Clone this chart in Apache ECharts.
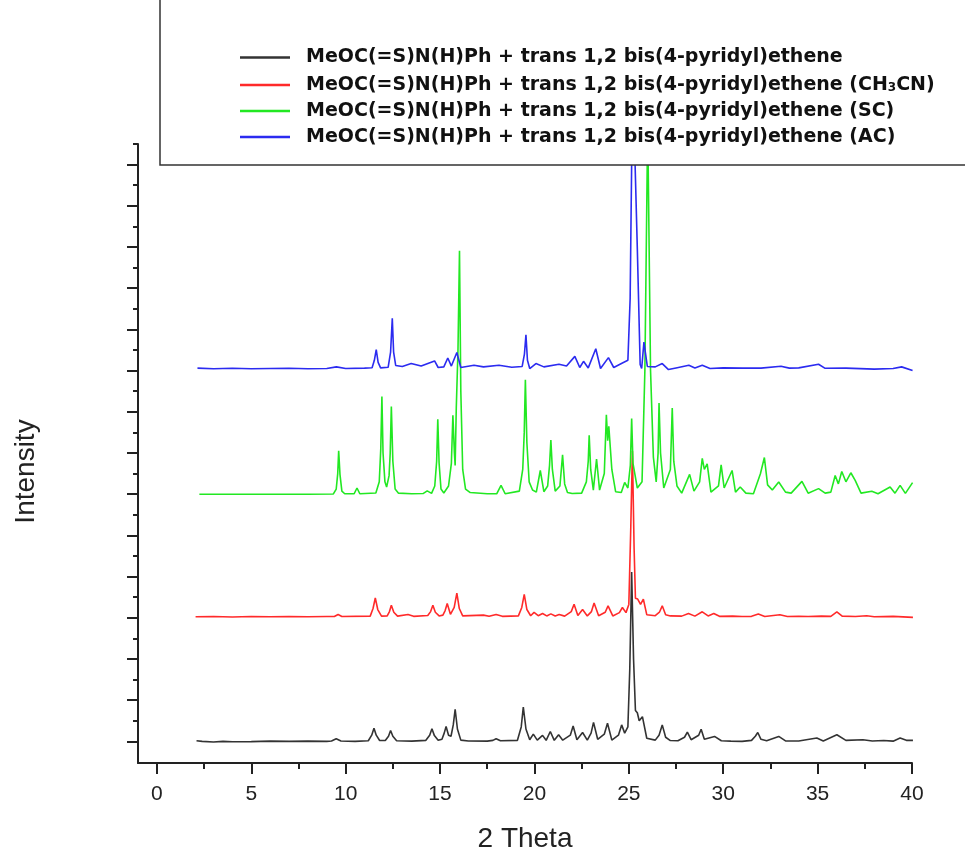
<!DOCTYPE html>
<html><head><meta charset="utf-8">
<script src="https://cdn.jsdelivr.net/npm/echarts@6/dist/echarts.min.js"></script>
<style>html,body{margin:0;padding:0;background:#fff}#c{width:965px;height:858px}</style>
</head><body><div id="c"></div>
<script>
const seriesNames = [
  'MeOC(=S)N(H)Ph + trans 1,2 bis(4-pyridyl)ethene',
  'MeOC(=S)N(H)Ph + trans 1,2 bis(4-pyridyl)ethene (CH3CN)',
  'MeOC(=S)N(H)Ph + trans 1,2 bis(4-pyridyl)ethene (SC)',
  'MeOC(=S)N(H)Ph + trans 1,2 bis(4-pyridyl)ethene (AC)'
];
const seriesColors = ['#333333', '#ff2a2a', '#22e822', '#2b2bf0'];
const offsets = [100, 705, 1300, 1910];

const black = [[2.1,3],[2.4,0],[3,-3],[3.5,0],[4,-2],[5,-1],[6,1],[7,0],[8,1],[9,0],[9.25,2],[9.5,13],
 [9.75,2],[10.5,0],[11.2,3],[11.38,30],[11.5,64],[11.62,30],[11.8,4],[12.1,4],[12.27,25],[12.38,53],
 [12.5,25],[12.7,3],[13.5,1],[14.25,5],[14.45,30],[14.57,61],[14.7,28],[14.9,5],[15.1,10],[15.22,40],
 [15.32,72],[15.45,30],[15.58,25],[15.7,80],[15.8,156],[15.92,60],[16.1,6],[16.5,2],[17.5,1],[17.8,5],
 [17.97,13],[18.2,3],[19.1,5],[19.3,70],[19.41,167],[19.55,60],[19.75,8],[19.94,35],[20.15,6],
 [20.43,29],[20.62,5],[20.84,48],[21.05,5],[21.28,32],[21.5,6],[21.9,30],[22.05,75],[22.25,8],
 [22.55,43],[22.8,6],[23.0,40],[23.13,92],[23.35,10],[23.7,35],[23.87,88],[24.1,6],[24.45,30],
 [24.62,80],[24.78,40],[24.95,70],[25.05,350],[25.15,822],[25.25,400],[25.35,150],[25.45,139],
 [25.55,100],[25.72,120],[25.95,15],[26.4,6],[26.6,30],[26.77,80],[26.95,20],[27.2,4],[27.6,3],
 [27.95,20],[28.1,45],[28.3,8],[28.7,30],[28.83,59],[29.0,10],[29.54,24],[29.9,3],[30.4,1],[31,0],
 [31.5,5],[31.7,25],[31.83,43],[32.0,10],[32.3,3],[32.94,24],[33.3,2],[34,2],[34.96,16],[35.3,2],
 [36.02,32],[36.5,5],[37.4,8],[37.9,2],[38.5,4],[39,1],[39.37,16],[39.7,5],[40.05,5]];

const red = [[2.05,0],[3,1],[4,-1],[5,1],[6,0],[7,1],[8,0],[9,1],[9.4,1],[9.6,11],[9.8,1],
 [11.3,3],[11.45,40],[11.57,91],[11.7,35],[11.9,3],[12.2,4],[12.32,25],[12.42,56],[12.55,22],
 [12.75,3],[13.3,11],[13.6,2],[14.35,6],[14.5,25],[14.62,56],[14.75,22],[14.95,4],[15.15,8],
 [15.27,30],[15.38,64],[15.55,12],[15.75,45],[15.89,115],[16.02,40],[16.2,4],[17.3,8],[17.6,2],
 [17.97,11],[18.3,2],[19.15,4],[19.33,45],[19.46,109],[19.6,35],[19.8,5],[19.98,21],[20.2,5],
 [20.43,16],[20.65,4],[20.87,14],[21.1,4],[21.31,11],[21.6,3],[21.95,25],[22.1,61],[22.3,6],
 [22.55,35],[22.8,4],[23.02,25],[23.16,67],[23.4,5],[23.75,22],[23.9,53],[24.15,4],[24.5,20],
 [24.66,45],[24.85,20],[25.0,60],[25.1,420],[25.19,804],[25.28,330],[25.35,90],[25.47,86],
 [25.62,60],[25.77,85],[25.95,10],[26.4,5],[26.62,22],[26.77,53],[26.95,10],[27.2,4],[27.8,3],
 [28.16,16],[28.5,3],[28.89,24],[29.2,4],[29.5,16],[29.8,2],[30.5,3],[31,1],[31.5,2],[31.86,13],
 [32.2,1],[33.0,10],[33.4,1],[34,2],[34.5,1],[35.2,3],[35.7,2],[36.02,24],[36.3,3],[37,1],[37.6,5],
 [38,0],[39,2],[40.05,-3]];

const green = [[2.25,0],[4,0],[6,0],[8,0],[9.35,1],[9.5,25],[9.58,100],[9.63,211],[9.7,95],
 [9.8,15],[9.95,2],[10.45,2],[10.6,30],[10.75,2],[11.6,6],[11.78,60],[11.86,220],[11.92,474],
 [11.98,200],[12.08,60],[12.17,35],[12.3,90],[12.36,200],[12.42,426],[12.5,160],[12.62,25],
 [12.8,5],[13.5,2],[14.1,3],[14.32,16],[14.55,4],[14.72,40],[14.82,160],[14.88,364],[14.95,150],
 [15.05,25],[15.2,6],[15.45,40],[15.6,150],[15.68,383],[15.76,200],[15.8,139],[15.86,420],
 [15.95,700],[16.03,1182],[16.1,500],[16.2,120],[16.35,25],[16.6,8],[17.5,2],[18.0,2],[18.23,43],
 [18.45,2],[19.2,15],[19.38,120],[19.46,300],[19.52,556],[19.6,250],[19.72,60],[19.9,20],[20.1,10],
 [20.31,115],[20.5,12],[20.7,40],[20.8,140],[20.87,263],[20.95,120],[21.1,15],[21.35,40],[21.49,191],
 [21.6,50],[21.75,8],[22.0,3],[22.5,5],[22.75,60],[22.85,160],[22.9,286],[22.98,120],[23.12,20],
 [23.29,171],[23.45,20],[23.7,100],[23.81,386],[23.88,260],[23.94,330],[24.0,335],[24.1,120],
 [24.3,12],[24.6,8],[24.78,57],[24.95,30],[25.08,140],[25.15,367],[25.22,150],[25.31,144],
 [25.45,30],[25.7,60],[25.85,600],[26.0,1800],[26.15,600],[26.3,180],[26.45,60],[26.55,200],
 [26.6,442],[26.68,200],[26.85,30],[27.2,120],[27.3,418],[27.38,160],[27.55,40],[27.8,5],[28.22,96],
 [28.45,15],[28.75,60],[28.89,174],[29.0,120],[29.15,147],[29.35,10],[29.75,40],[29.89,142],
 [30.05,30],[30.47,115],[30.65,10],[30.9,35],[31.2,5],[31.6,2],[31.97,99],[32.18,178],[32.35,45],
 [32.6,20],[32.94,59],[33.3,10],[33.6,5],[34.17,62],[34.5,5],[35.05,27],[35.4,5],[35.7,10],
 [35.93,91],[36.1,50],[36.28,110],[36.5,60],[36.76,104],[36.99,67],[37.3,5],[37.87,14],[38.2,2],
 [38.84,35],[39.1,5],[39.37,43],[39.65,4],[40.03,56]];

const blue = [[2.15,2],[3,-1],[4,1],[5,-1],[6,0],[7,1],[8,-1],[9,0],[9.51,8],[10,0],[11,2],[11.4,4],
 [11.52,40],[11.62,92],[11.72,30],[11.85,3],[12.25,6],[12.38,80],[12.47,244],[12.54,80],[12.65,15],
 [13,10],[13.47,24],[14,12],[14.71,37],[14.9,5],[15.2,8],[15.41,51],[15.6,12],[15.89,78],[16.1,5],
 [16.8,16],[17.3,8],[18.12,16],[18.8,6],[19.35,10],[19.47,70],[19.55,164],[19.63,40],[19.75,0],
 [20.08,24],[20.5,8],[21.3,21],[21.7,12],[22.14,59],[22.4,5],[22.6,35],[22.85,3],[23.25,96],[23.5,0],
 [23.92,53],[24.2,5],[24.66,27],[24.95,40],[25.07,340],[25.18,1240],[25.3,1100],[25.45,582],
 [25.6,20],[25.68,0],[25.8,128],[25.98,10],[26.4,8],[26.77,24],[27.1,-5],[27.5,3],[28.18,16],
 [28.5,3],[28.89,16],[29.3,0],[30,3],[31,2],[32,2],[33.06,11],[33.5,2],[34,3],[35.05,21],[35.4,1],
 [36.5,2],[38,-3],[39,0],[39.45,8],[40.03,-10]];

const curves = [black, red, green, blue];

const xMajorTicks = [0, 5, 10, 15, 20, 25, 30, 35, 40];
const xMinorTicks = [2.5, 7.5, 12.5, 17.5, 22.5, 27.5, 32.5, 37.5];
const yMajorTicks = [100, 300, 500, 700, 900, 1100, 1300, 1500, 1700, 1900, 2100, 2300, 2500, 2700, 2900];
const yMinorTicks = [200, 400, 600, 800, 1000, 1200, 1400, 1600, 1800, 2000, 2200, 2400, 2600, 2800, 3000];

const chart = echarts.init(document.getElementById('c'), null, {renderer: 'canvas'});
const axisColor = '#222';
const sansFont = '"Liberation Sans", Arial, sans-serif';
const legendFont = '"DejaVu Sans", Verdana, sans-serif';

chart.setOption({
  animation: false,
  backgroundColor: '#fff',
  grid: {left: 138, right: 53, top: 144, bottom: 86, containLabel: false},
  legend: {
    orient: 'vertical', left: 240, top: 48, itemGap: 7, padding: 0,
    icon: 'rect', itemWidth: 50, itemHeight: 2.5,
    data: seriesNames,
    formatter: n => n.replace('CH3CN', 'CH{sub|3}CN'),
    textStyle: {
      fontFamily: legendFont, fontWeight: 'bold', fontSize: 19,
      color: '#111', lineHeight: 18, padding: [0, 0, 0, 11],
      rich: {sub: {fontFamily: legendFont, fontWeight: 'bold', fontSize: 12, color: '#111',
                   verticalAlign: 'bottom', lineHeight: 18, padding: [8, 0, 0, 0]}}
    }
  },
  xAxis: [
    {type: 'value', min: -1, max: 40, position: 'bottom',
     axisLine: {onZero: false, lineStyle: {color: axisColor, width: 2}},
     axisTick: {customValues: xMajorTicks, length: 11, lineStyle: {color: axisColor, width: 2}},
     axisLabel: {customValues: xMajorTicks, margin: 21, fontSize: 21, color: '#222', fontFamily: sansFont},
     splitLine: {show: false},
     name: '2 Theta', nameLocation: 'middle', nameGap: 62,
     nameTextStyle: {fontSize: 28, color: '#222', fontFamily: sansFont}},
    {type: 'value', min: -1, max: 40, position: 'bottom',
     axisLine: {show: false, onZero: false},
     axisTick: {customValues: xMinorTicks, length: 6, lineStyle: {color: axisColor, width: 2}},
     axisLabel: {show: false}, splitLine: {show: false}}
  ],
  yAxis: [
    {type: 'value', min: -5, max: 3000, position: 'left',
     axisLine: {show: true, onZero: false, lineStyle: {color: axisColor, width: 2}},
     axisTick: {show: true, customValues: yMajorTicks, length: 11, lineStyle: {color: axisColor, width: 2}},
     axisLabel: {show: false}, splitLine: {show: false},
     name: 'Intensity', nameLocation: 'middle', nameGap: 98, nameRotate: 90,
     nameTextStyle: {fontSize: 28, color: '#222', fontFamily: sansFont, padding: [0, 36, 0, 0]}},
    {type: 'value', min: -5, max: 3000, position: 'left', offset: 0,
     axisLine: {show: false, onZero: false},
     axisTick: {show: true, customValues: yMinorTicks, length: 5, lineStyle: {color: axisColor, width: 2}},
     axisLabel: {show: false}, splitLine: {show: false}}
  ],
  graphic: [{
    type: 'rect', z: 3, zlevel: 0,
    shape: {x: 160, y: -5, width: 830, height: 170},
    style: {fill: '#fff', stroke: '#333', lineWidth: 1.5}
  }],
  series: curves.map((c, i) => ({
    name: seriesNames[i], type: 'line', xAxisIndex: 0, yAxisIndex: 0,
    symbol: 'none', clip: true, z: 2,
    color: seriesColors[i],
    lineStyle: {color: seriesColors[i], width: 1.6},
    data: c.map(p => [p[0], p[1] + offsets[i]])
  }))
});
</script></body></html>
